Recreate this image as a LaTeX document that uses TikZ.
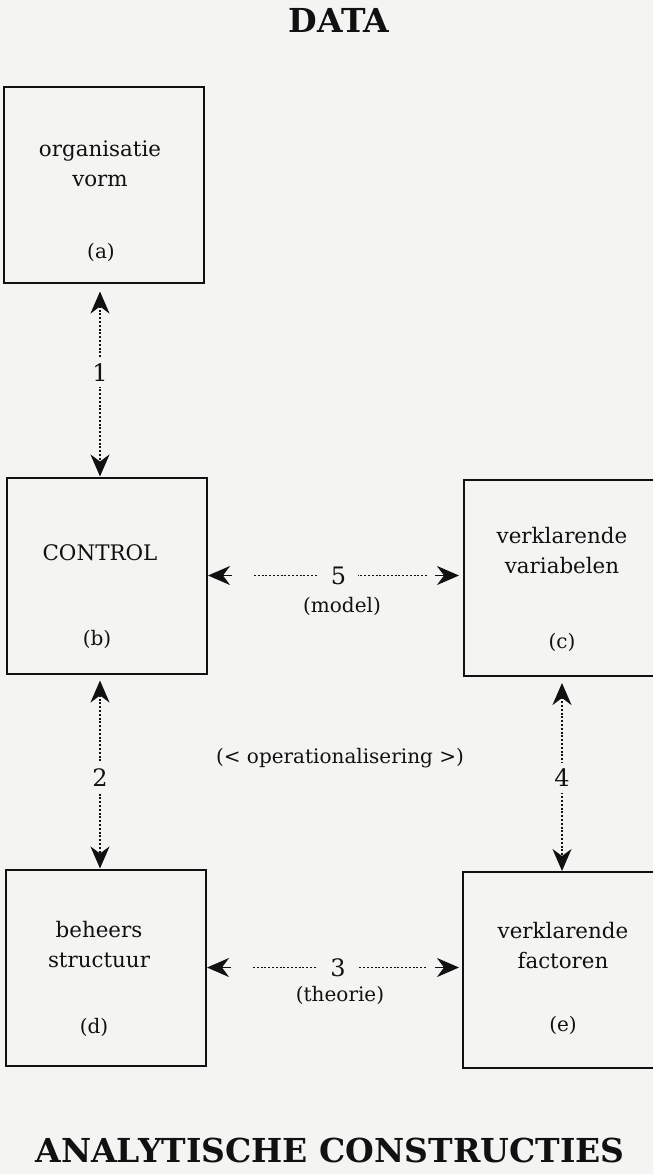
\documentclass[tikz,border=0pt]{standalone}
\usepackage{fontspec}
\setmainfont{DejaVu Serif}
\usetikzlibrary{arrows.meta}
\definecolor{bg}{HTML}{F4F4F2}
\definecolor{ink}{HTML}{111111}
\begin{document}
\begin{tikzpicture}[x=0.5pt,y=-0.5pt,
  box/.style={draw=ink, line width=1pt, minimum width=100pt, minimum height=98pt, inner sep=0pt},
  txt/.style={text=ink, align=center, inner sep=0pt, font=\fontsize{10.7}{15}\selectfont},
  tag/.style={text=ink, inner sep=0pt, font=\fontsize{10}{12}\selectfont},
  num/.style={text=ink, fill=bg, inner xsep=2pt, inner ysep=3pt, font=\fontsize{12}{14}\selectfont},
  hnum/.style={num, inner xsep=6pt},
  title/.style={text=ink, inner sep=0pt, font=\bfseries\fontsize{16.5}{20}\selectfont},
  tip/.tip={Stealth[length=11pt,width=9.5pt,inset=3.5pt]},
  conn/.style={draw=ink, line width=0.85pt, dash pattern=on 1pt off 0.9pt, tip-tip},
  hline/.style={draw=ink, line width=0.85pt, dash pattern=on 1pt off 0.9pt, shorten <=23pt, shorten >=16pt},
  tiponly/.style={draw=ink, line width=0.85pt, -tip}]
\fill[bg] (0,0) rectangle (653,1174);
\useasboundingbox (0,0) rectangle (653,1174);
\clip (0,0) rectangle (653,1174);

\node[title] (data) at (339,20) {DATA};
\node[title] (ac) at (330,1150) {ANALYTISCHE CONSTRUCTIES};

\node[box] (a) at (104,184.5) {};
\node[box] (b) at (107,575.5) {};
\node[box] (c) at (564,578) {};
\node[box] (d) at (106,967.5) {};
\node[box] (e) at (563,970) {};

\node[txt] (ta) at (100,164) {organisatie\\vorm};
\node[txt] (tb) at (100,553) {CONTROL};
\node[txt] (tc) at (562,551) {verklarende\\variabelen};
\node[txt] (td) at (99,945) {beheers\\structuur};
\node[txt] (te) at (563,946) {verklarende\\factoren};

\node[tag] (la) at (101,252) {(a)};
\node[tag] (lb) at (97,639) {(b)};
\node[tag] (lc) at (562,642) {(c)};
\node[tag] (ld) at (94,1027) {(d)};
\node[tag] (le) at (563,1025) {(e)};

\node[tag] (model) at (342,606) {(model)};
\node[tag] (theorie) at (340,995) {(theorie)};
\node[tag] (oper) at (340,758) {(< operationalisering >)};

% vertical connectors
\draw[conn, shorten <=4pt] (a.south -| ta.center) -- (b.north -| ta.center) node[num, pos=0.46] (n1) {1};
\draw[conn, shorten <=3pt] (b.south -| ta.center) -- (d.north -| ta.center) node[num, pos=0.53] (n2) {2};
\draw[conn, shorten <=3pt] (c.south -| tc.center) -- (e.north -| tc.center) node[num, pos=0.52] (n4) {4};

% horizontal connectors: dotted line with gaps, solid tips at the boxes
\coordinate (b5) at (b.east);
\coordinate (c5) at ([xshift=-2pt]b.east -| c.west);
\draw[hline] (b5) -- (c5) node[hnum, pos=0.52] (n5) {5};
\draw[tiponly] ([xshift=12pt]b5) -- (b5);
\draw[tiponly] ([xshift=-12pt]c5) -- (c5);

\coordinate (d3) at (d.east);
\coordinate (e3) at ([xshift=-1.5pt]d.east -| e.west);
\draw[hline] (d3) -- (e3) node[hnum, pos=0.52] (n3) {3};
\draw[tiponly] ([xshift=12pt]d3) -- (d3);
\draw[tiponly] ([xshift=-12pt]e3) -- (e3);
\end{tikzpicture}
\end{document}
